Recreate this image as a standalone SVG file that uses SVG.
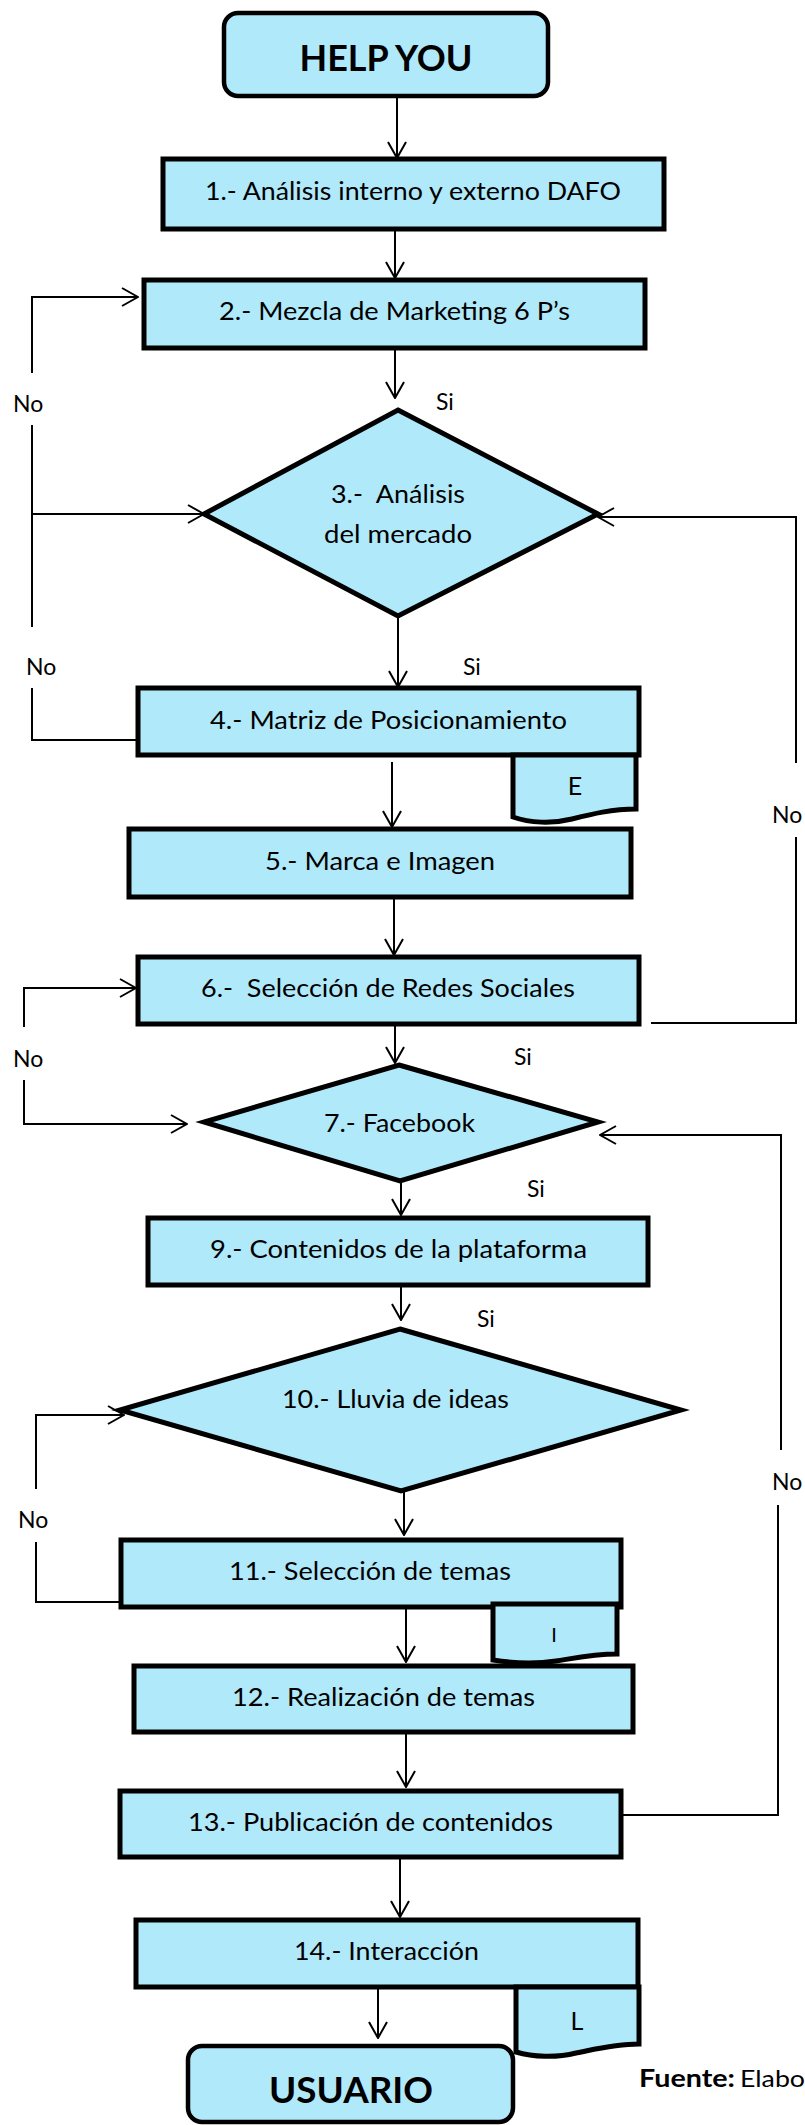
<svg xmlns="http://www.w3.org/2000/svg" width="805" height="2125" viewBox="0 0 805 2125">
  <defs>
    <style>
      .node { fill: #B0E9FA; stroke: #000; stroke-width: 5; stroke-linejoin: miter; }
      .term { fill: #B0E9FA; stroke: #000; stroke-width: 4.5; }
      .t { font-family: Lato, "Liberation Sans", sans-serif; font-size: 25px; text-anchor: middle; fill: #000; }
      .tb { font-family: Lato, "Liberation Sans", sans-serif; font-size: 37px; font-weight: bold; text-anchor: middle; fill: #000; }
      .lbl { font-family: Lato, "Liberation Sans", sans-serif; font-size: 23px; fill: #000; }
      .c { fill: none; stroke: #000; stroke-width: 2; }
    </style>
    <marker id="arrow" viewBox="0 0 18 20" refX="17" refY="10" markerWidth="18" markerHeight="20" markerUnits="userSpaceOnUse" orient="auto">
      <path d="M1,1 L17,10 L1,19" fill="none" stroke="#000" stroke-width="2"/>
    </marker>
  </defs>

  <!-- connectors -->
  <g id="connectors">
    <path class="c" d="M397,98 V158" marker-end="url(#arrow)"/>
    <path class="c" d="M395,229 V278" marker-end="url(#arrow)"/>
    <path class="c" d="M395,348 V398" marker-end="url(#arrow)"/>
    <!-- left return loops to step 2 and 3 -->
    <path class="c" d="M32,373 V297 H138" marker-end="url(#arrow)"/>
    <path class="c" d="M32,425 V627"/>
    <path class="c" d="M32,514 H204" marker-end="url(#arrow)"/>
    <path class="c" d="M32,688 V740 H138"/>
    <path class="c" d="M398,616 V687" marker-end="url(#arrow)"/>
    <!-- right return loop to step 3 -->
    <path class="c" d="M651,1023 H796 V837"/>
    <path class="c" d="M796,763 V517 H598" marker-end="url(#arrow)"/>
    <path class="c" d="M392,762 V827" marker-end="url(#arrow)"/>
    <path class="c" d="M394,897 V955" marker-end="url(#arrow)"/>
    <!-- left loop around step 6 / 7 -->
    <path class="c" d="M24,1027 V988 H136" marker-end="url(#arrow)"/>
    <path class="c" d="M24,1080 V1124 H187" marker-end="url(#arrow)"/>
    <path class="c" d="M395,1024 V1063" marker-end="url(#arrow)"/>
    <!-- right return loop from step 13 to step 7 -->
    <path class="c" d="M621,1815 H778 V1505"/>
    <path class="c" d="M781,1450 V1135 H600" marker-end="url(#arrow)"/>
    <path class="c" d="M401,1181 V1215" marker-end="url(#arrow)"/>
    <path class="c" d="M401,1285 V1320" marker-end="url(#arrow)"/>
    <!-- left loop from step 11 to step 10 -->
    <path class="c" d="M121,1602 H36 V1542"/>
    <path class="c" d="M36,1489 V1415 H124" marker-end="url(#arrow)"/>
    <path class="c" d="M404,1491 V1535" marker-end="url(#arrow)"/>
    <path class="c" d="M406,1607 V1662" marker-end="url(#arrow)"/>
    <path class="c" d="M406,1732 V1787" marker-end="url(#arrow)"/>
    <path class="c" d="M400,1857 V1917" marker-end="url(#arrow)"/>
    <path class="c" d="M378,1987 V2038" marker-end="url(#arrow)"/>
  </g>

  <!-- branch labels -->
  <g id="labels">
    <text class="lbl" x="13" y="412">No</text>
    <text class="lbl" x="436" y="410">Si</text>
    <text class="lbl" x="26" y="675">No</text>
    <text class="lbl" x="463" y="675">Si</text>
    <text class="lbl" x="772" y="823">No</text>
    <text class="lbl" x="13" y="1067">No</text>
    <text class="lbl" x="514" y="1065">Si</text>
    <text class="lbl" x="527" y="1197">Si</text>
    <text class="lbl" x="477" y="1327">Si</text>
    <text class="lbl" x="772" y="1490">No</text>
    <text class="lbl" x="18" y="1528">No</text>
  </g>

  <g id="start">
    <rect class="term" x="224" y="13" width="324" height="83" rx="14"/>
    <text class="tb" x="386" y="71" textLength="173" lengthAdjust="spacingAndGlyphs">HELP YOU</text>
  </g>

  <g id="step1">
    <rect class="node" x="163" y="159" width="501" height="70"/>
    <text class="t" x="413" y="200" textLength="416" lengthAdjust="spacingAndGlyphs">1.- Análisis interno y externo DAFO</text>
  </g>

  <g id="step2">
    <rect class="node" x="144" y="280" width="501" height="68"/>
    <text class="t" x="394.5" y="320" textLength="351" lengthAdjust="spacingAndGlyphs">2.- Mezcla de Marketing 6 P’s</text>
  </g>

  <g id="step3">
    <polygon class="node" points="398,410 598,514 398,616 204,514"/>
    <text class="t" x="398" y="503" textLength="134" lengthAdjust="spacingAndGlyphs" xml:space="preserve">3.-  Análisis</text>
    <text class="t" x="398" y="543" textLength="148" lengthAdjust="spacingAndGlyphs">del mercado</text>
  </g>

  <g id="step4">
    <rect class="node" x="138" y="688" width="501" height="67"/>
    <text class="t" x="388.5" y="729" textLength="357" lengthAdjust="spacingAndGlyphs">4.- Matriz de Posicionamiento</text>
  </g>

  <g id="docE">
    <path class="node" d="M513,755 H636 V809 C612,809 592,814 572,819 C552,824 530,823 513,817 Z"/>
    <text class="t" x="575" y="795">E</text>
  </g>

  <g id="step5">
    <rect class="node" x="129" y="829" width="502" height="68"/>
    <text class="t" x="380" y="870" textLength="230" lengthAdjust="spacingAndGlyphs">5.- Marca e Imagen</text>
  </g>

  <g id="step6">
    <rect class="node" x="138" y="957" width="501" height="67"/>
    <text class="t" x="388" y="997" textLength="374" lengthAdjust="spacingAndGlyphs" xml:space="preserve">6.-  Selección de Redes Sociales</text>
  </g>

  <g id="step7">
    <polygon class="node" points="399,1065 598,1122 400,1181 204,1122"/>
    <text class="t" x="399.5" y="1132" textLength="151" lengthAdjust="spacingAndGlyphs">7.- Facebook</text>
  </g>

  <g id="step9">
    <rect class="node" x="148" y="1218" width="500" height="67"/>
    <text class="t" x="398.5" y="1258" textLength="377" lengthAdjust="spacingAndGlyphs">9.- Contenidos de la plataforma</text>
  </g>

  <g id="step10">
    <polygon class="node" points="400,1329 681,1410 401,1491 120,1410"/>
    <text class="t" x="395.5" y="1408" textLength="227" lengthAdjust="spacingAndGlyphs">10.- Lluvia de ideas</text>
  </g>

  <g id="step11">
    <rect class="node" x="121" y="1540" width="500" height="67"/>
    <text class="t" x="370" y="1580" textLength="282" lengthAdjust="spacingAndGlyphs">11.- Selección de temas</text>
  </g>

  <g id="docI">
    <path class="node" d="M493,1604 H617 V1654 C594,1654 575,1658 556,1661 C536,1664 512,1663 493,1660 Z"/>
    <text class="t" x="554" y="1642" style="font-size:20px">I</text>
  </g>

  <g id="step12">
    <rect class="node" x="134" y="1666" width="499" height="66"/>
    <text class="t" x="383.5" y="1706" textLength="303" lengthAdjust="spacingAndGlyphs">12.- Realización de temas</text>
  </g>

  <g id="step13">
    <rect class="node" x="120" y="1791" width="501" height="66"/>
    <text class="t" x="370.5" y="1831" textLength="365" lengthAdjust="spacingAndGlyphs">13.- Publicación de contenidos</text>
  </g>

  <g id="step14">
    <rect class="node" x="136" y="1920" width="502" height="67"/>
    <text class="t" x="386.5" y="1960" textLength="185" lengthAdjust="spacingAndGlyphs">14.- Interacción</text>
  </g>

  <g id="docL">
    <path class="node" d="M516,1987 H639 V2044 C615,2044 596,2049 576,2053 C556,2058 533,2057 516,2052 Z"/>
    <text class="t" x="577" y="2030">L</text>
  </g>

  <g id="end">
    <rect class="term" x="188" y="2046" width="325" height="76" rx="14"/>
    <text class="tb" x="351" y="2103" textLength="164" lengthAdjust="spacingAndGlyphs">USUARIO</text>
  </g>

  <g id="source">
    <text class="lbl" x="639" y="2087" style="font-size:24px" font-weight="bold" textLength="96" lengthAdjust="spacingAndGlyphs">Fuente:</text>
    <text class="lbl" x="740" y="2087" style="font-size:24px" textLength="65" lengthAdjust="spacingAndGlyphs">Elabo</text>
  </g>
</svg>
